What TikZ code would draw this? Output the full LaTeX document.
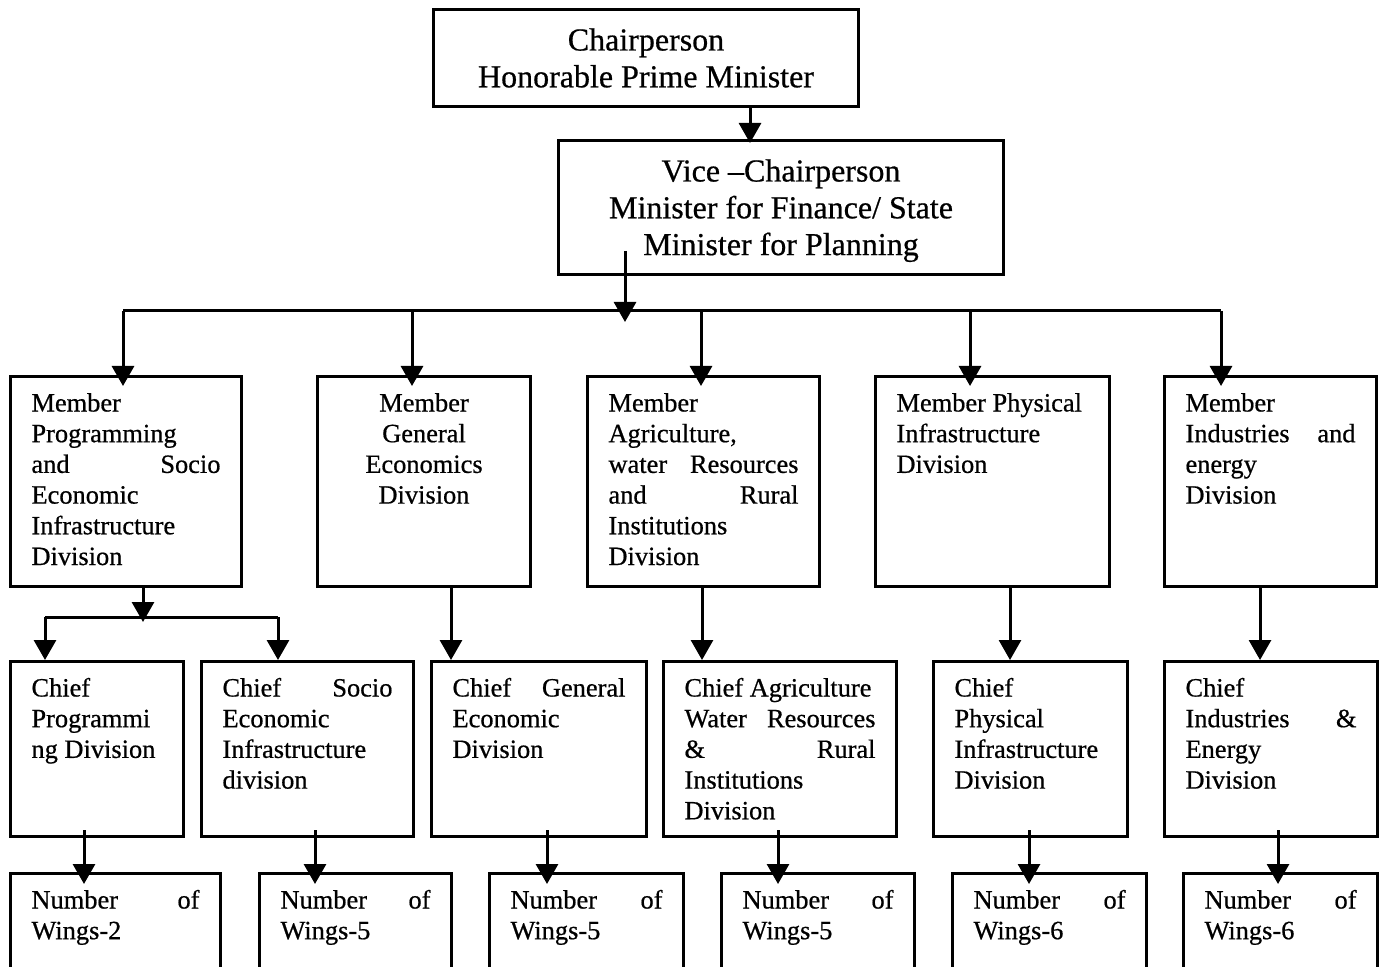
\documentclass[tikz,border=0pt]{standalone}
\usepackage{fontspec}
\setmainfont{Liberation Serif}[FakeBold=0.6]
\usetikzlibrary{arrows.meta}

\newcommand\bx[6]{\node[box] (#1) at (#2,#3) {\parbox[c][\dimexpr(#5pt-#3pt)/2\relax][t]{\dimexpr(#4pt-#2pt)/2\relax}{#6}};}
\newcommand\sm[1]{\fontsize{13.2pt}{15.35pt}\selectfont\leftskip=10.5pt\rightskip=10.5pt\vspace*{7.5pt}\rule{0pt}{10pt}#1\par}
\newcommand\smc[1]{\fontsize{13.2pt}{15.35pt}\selectfont\centering\vspace*{7.5pt}\rule{0pt}{10pt}#1\par}
\newcommand\bg[1]{\fontsize{16pt}{18.4pt}\selectfont\centering\vspace*{8.5pt}\rule{0pt}{12pt}#1\par}

\tikzset{
  box/.style={draw, line width=1.5pt, anchor=north west, inner sep=0pt},
  ln/.style={line width=1.5pt},
  arr/.style={line width=1.5pt, -{Triangle[length=10pt,width=11pt]}},
}

\begin{document}
\begin{tikzpicture}[x=0.5pt, y=-0.5pt]
\useasboundingbox (0,0) rectangle (1384,967);
\clip (0,0) rectangle (1384,967);

% top
\bx{chair}{432}{8}{857}{105}{\bg{Chairperson\\Honorable Prime Minister}}
\bx{vice}{557}{139}{1002}{273}{\bg{Vice –Chairperson\\Minister for Finance/ State\\Minister for Planning}}

% members
\bx{m1}{9}{375}{240}{585}{\sm{Member\\Programming\\and\hfill Socio\\Economic\\Infrastructure\\Division}}
\bx{m2}{316}{375}{529}{585}{\smc{Member\\General\\Economics\\Division}}
\bx{m3}{586}{375}{818}{585}{\sm{Member\\Agriculture,\\water\hfill Resources\\and\hfill Rural\\Institutions\\Division}}
\bx{m4}{874}{375}{1108}{585}{\sm{Member Physical\\Infrastructure\\Division}}
\bx{m5}{1163}{375}{1375}{585}{\sm{Member\\Industries\hfill and\\energy\\Division}}

% chiefs
\bx{c1}{9}{660}{182}{835}{\sm{Chief\\Programmi\\ng Division}}
\bx{c2}{200}{660}{412}{835}{\sm{Chief\hfill Socio\\Economic\\Infrastructure\\division}}
\bx{c3}{430}{660}{645}{835}{\sm{Chief\hfill General\\Economic\\Division}}
\bx{c4}{662}{660}{895}{835}{\sm{Chief Agriculture\\Water\hfill Resources\\\&\hfill Rural\\Institutions\\Division}}
\bx{c5}{932}{660}{1126}{835}{\sm{Chief\\Physical\\Infrastructure\\Division}}
\bx{c6}{1163}{660}{1376}{835}{\sm{Chief\\Industries\hfill \&\\Energy\\Division}}

% number of wings
\bx{n1}{9}{872}{219}{1000}{\sm{Number\hfill of\\Wings-2}}
\bx{n2}{258}{872}{450}{1000}{\sm{Number\hfill of\\Wings-5}}
\bx{n3}{488}{872}{682}{1000}{\sm{Number\hfill of\\Wings-5}}
\bx{n4}{720}{872}{913}{1000}{\sm{Number\hfill of\\Wings-5}}
\bx{n5}{951}{872}{1145}{1000}{\sm{Number\hfill of\\Wings-6}}
\bx{n6}{1182}{872}{1376}{1000}{\sm{Number\hfill of\\Wings-6}}

% helper coordinates
\coordinate (xc) at (750,0);
\coordinate (vb) at (625,322);
\coordinate (bus) at (0,311);
\coordinate (xm1) at (123,0);
\coordinate (xm2) at (412,0);
\coordinate (xm3) at (701,0);
\coordinate (xm4) at (970,0);
\coordinate (xm5) at (1221,0);
\coordinate (s1) at (143,622);
\coordinate (sl) at (45,617);
\coordinate (sr) at (278,617);
\coordinate (xk3) at (451,0);
\coordinate (xk4) at (702,0);
\coordinate (xk5) at (1010,0);
\coordinate (xk6) at (1260,0);
\coordinate (xn1) at (84,0);
\coordinate (xn2) at (315,0);
\coordinate (xn3) at (547,0);
\coordinate (xn4) at (778,0);
\coordinate (xn5) at (1029,0);
\coordinate (xn6) at (1278,0);

% connectors
\draw[arr, shorten >=-2pt] (chair.south -| xc) -- (vice.north -| xc);
\draw[arr, shorten <=-12.5pt] (vice.south -| vb) -- (vb);
\draw[ln] (bus -| xm1) -- (bus -| xm5);
\foreach \i in {1,...,5}{
  \draw[arr, shorten >=-5.5pt] (bus -| xm\i) -- (m\i.north -| xm\i);
}
\draw[arr] (m1.south -| s1) -- (s1);
\draw[ln] (sl) -- (sr);
\draw[arr] (sl) -- (c1.north -| sl);
\draw[arr] (sr) -- (c2.north -| sr);
\draw[arr] (m2.south -| xk3) -- (c3.north -| xk3);
\draw[arr] (m3.south -| xk4) -- (c4.north -| xk4);
\draw[arr] (m4.south -| xk5) -- (c5.north -| xk5);
\draw[arr] (m5.south -| xk6) -- (c6.north -| xk6);
\foreach \i in {1,...,6}{
  \draw[arr, shorten <=-4pt, shorten >=-6pt] (c\i.south -| xn\i) -- (n\i.north -| xn\i);
}
\end{tikzpicture}
\end{document}
